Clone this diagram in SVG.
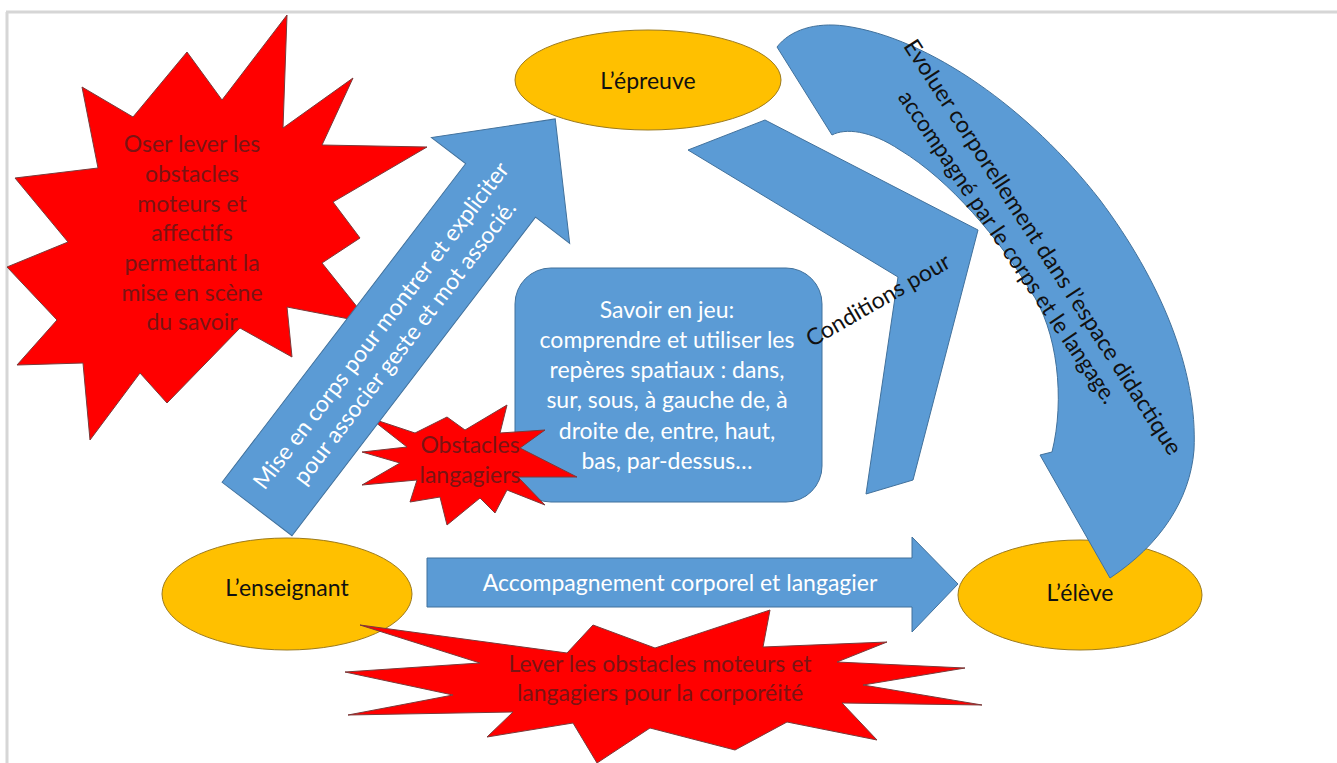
<svg xmlns="http://www.w3.org/2000/svg" width="1337" height="763" viewBox="0 0 1337 763">
<style>
.blue{fill:#5B9BD5;stroke:#41719C;stroke-width:1}
.red{fill:#FF0000;stroke:#7a3a3a;stroke-width:1}
.ell{fill:#FFC000;stroke:#9c7a1c;stroke-width:1}
.t{font-family:Lato,"Liberation Sans",sans-serif;font-size:23px;text-anchor:middle}
.w{fill:#ffffff}
.k{fill:#111111}
.dr{fill:#7a1414}
</style>
<rect x="0" y="0" width="1337" height="763" fill="#ffffff"/>
<g id="frame" fill="none" stroke="#d6d6d6" stroke-width="3">
<line x1="6" y1="12" x2="1337" y2="12"/>
<line x1="7" y1="12" x2="7" y2="763"/>
</g>

<g id="star-oser">
<polygon class="red" points="287,15 283,128 353,78 322,145 427,147 333,202 360,238 322,263 370,323 287,307 292,357 240,328 167,403 140,373 90,440 83,363 17,365 57,320 7,267 68,242 15,178 98,168 82,87 133,117 187,52 222,100"/>
<text class="t dr" x="192" y="152">Oser lever les</text>
<text class="t dr" x="192" y="182">obstacles</text>
<text class="t dr" x="192" y="212">moteurs et</text>
<text class="t dr" x="192" y="241">affectifs</text>
<text class="t dr" x="192" y="271">permettant la</text>
<text class="t dr" x="192" y="301">mise en scène</text>
<text class="t dr" x="192" y="330">du savoir</text>
</g>

<g id="epreuve">
<ellipse class="ell" cx="648" cy="80" rx="133" ry="50"/>
<text class="t k" x="648" y="89">L’épreuve</text>
</g>
<g id="enseignant">
<ellipse class="ell" cx="287" cy="594" rx="125" ry="56"/>
<text class="t k" x="287" y="596">L’enseignant</text>
</g>
<g id="eleve">
<ellipse class="ell" cx="1080" cy="595" rx="122" ry="55"/>
</g>

<g id="savoir">
<rect class="blue" x="515" y="268" width="307" height="234" rx="36" ry="36"/>
<text class="t w" x="667" y="318">Savoir en jeu:</text>
<text class="t w" x="667" y="348">comprendre et utiliser les</text>
<text class="t w" x="667" y="378">repères spatiaux : dans,</text>
<text class="t w" x="667" y="408">sur, sous, à gauche de, à</text>
<text class="t w" x="667" y="439">droite de, entre, haut,</text>
<text class="t w" x="667" y="469">bas, par-dessus…</text>
</g>

<g id="star-obstacles">
<polygon class="red" points="370,418 415,433 447,417 465,430 507,405 500,433 545,430 520,448 577,477 518,477 545,505 507,490 495,513 480,498 447,525 440,497 410,502 417,480 362,485 400,463 362,452 407,447"/>
<text class="t dr" x="470" y="453">Obstacles</text>
<text class="t dr" x="470" y="483">langagiers</text>
</g>

<g id="connectors">
<g id="arrow-mise" transform="translate(257,509) rotate(-52.6)">
<polygon class="blue" points="0,-44 401,-44 401,-87 491,0 401,87 401,44 0,44"/>
<text class="t w" x="221" y="-5">Mise en corps pour montrer et expliciter</text>
<text class="t w" x="222" y="24">pour associer geste et mot associé.</text>
</g>
<g id="arrow-accompagnement">
<polygon class="blue" points="427,558 912,558 912,537 958,584 912,632 912,607 427,607"/>
<text class="t w" x="680" y="591">Accompagnement corporel et langagier</text>
</g>
<g id="arrow-conditions">
<polygon class="blue" points="688,150 765,120 978,230 913,480 866,494 898,277"/>
<text class="t k" transform="translate(878,300) rotate(-30)" x="0" y="8">Conditions pour</text>
</g>
<g id="arrow-evoluer">
<path class="blue" d="M777,47 C790,30 815,22 845,26 C930,38 1030,110 1100,200 C1160,280 1198,370 1194,450 C1190,500 1160,545 1110,578 L1040,455 L1052,452 C1065,400 1058,330 1030,290 C1000,240 950,180 900,150 C870,130 845,128 832,135 Z"/>
<text class="t k" transform="translate(1043,247) rotate(57)" x="0" y="8" textLength="490" lengthAdjust="spacingAndGlyphs">Evoluer corporellement dans l’espace didactique</text>
<text class="t k" transform="translate(1008,247) rotate(56)" x="0" y="8" textLength="372" lengthAdjust="spacingAndGlyphs">accompagné par le corps et le langage.</text>
</g>
</g>

<g id="eleve-label">
<text class="t k" x="1080" y="601">L’élève</text>
</g>

<g id="star-lever">
<polygon class="red" points="360,625 567,653 593,625 655,648 770,610 763,647 887,642 837,662 965,668 863,685 982,705 842,703 877,740 787,722 735,750 650,728 597,763 573,723 487,737 513,712 348,715 453,695 345,672 480,663"/>
<text class="t dr" x="660" y="672">Lever les obstacles moteurs et</text>
<text class="t dr" x="660" y="701">langagiers pour la corporéité</text>
</g>
</svg>
